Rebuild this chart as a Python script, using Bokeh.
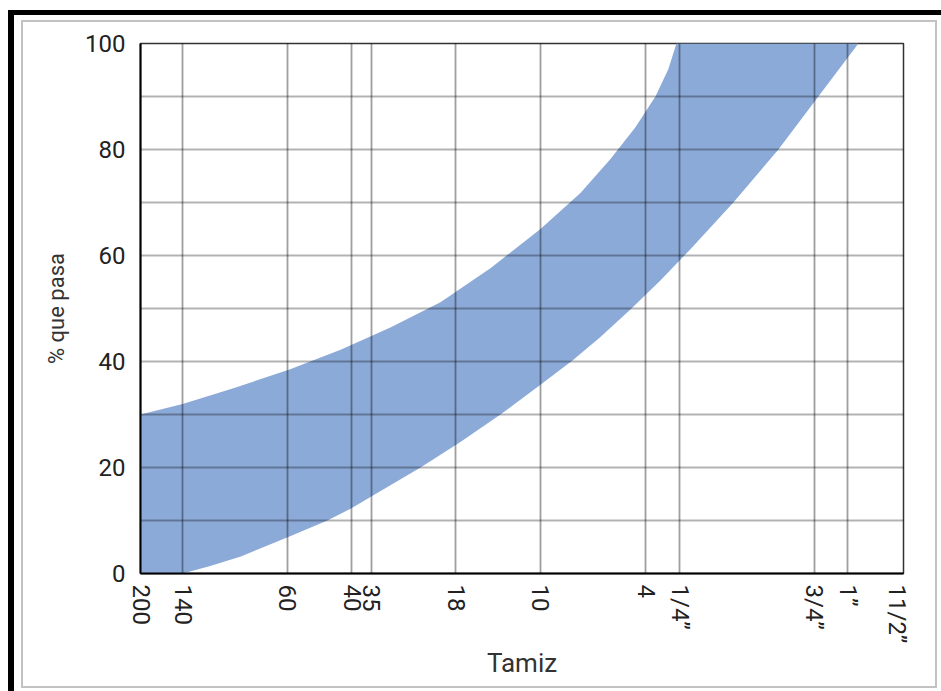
from bokeh.plotting import figure
from bokeh.models import FixedTicker, Range1d, AllLabels, ColumnDataSource, Spacer, LinearAxis
from bokeh.layouts import row, column
from bokeh.embed import file_html
from bokeh.resources import INLINE

# Sieve openings (mm) and their labels
sieve_mm = [0.075, 0.106, 0.25, 0.425, 0.5, 1.0, 2.0, 4.75, 6.3, 19.0, 25.0, 37.5]
sieve_labels = ["200", "140", "60", "40", "35", "18", "10", "4", "1/4\u201d", "3/4\u201d", "1\u201d", "11/2\u201d"]

# Upper limit of the band (% que pasa)
upper_mm = [0.075, 0.106, 0.164, 0.255, 0.388, 0.584, 0.881, 1.328, 2.003, 2.782, 3.560, 4.370, 5.149, 5.729, 6.117, 39.5]
upper_pct = [30, 32, 35.1, 38.5, 42.2, 46.4, 51.2, 57.6, 65.0, 71.8, 78.2, 84.2, 90, 95.2, 100, 100]

# Lower limit of the band (% que pasa)
lower_mm = [0.075, 0.106, 0.133, 0.171, 0.255, 0.348, 0.421, 0.517, 0.748, 1.038, 1.442, 2.003, 2.605, 3.278,
            4.193, 5.364, 6.863, 9.768, 14.14, 19.63, 27.27, 39.5]
lower_pct = [0, 0, 1.4, 3.2, 7.0, 10.0, 12.2, 15.0, 20.0, 24.8, 30.0, 35.6, 40.2, 44.6,
             49.8, 55.3, 61.2, 70, 80, 90, 100, 100]

y_major = [0, 20, 40, 60, 80, 100]
y_minor = [10, 30, 50, 70, 90]

y_title = "% que pasa"
x_title = "Tamiz"

FONT = "Roboto"

p = figure(width=912, height=664, x_axis_type="log",
           x_range=Range1d(0.075, 39.5), y_range=Range1d(0, 100),
           output_backend="svg", toolbar_location=None,
           min_border_left=117, min_border_top=21, min_border_right=32, min_border_bottom=113)

band = ColumnDataSource(data=dict(
    x=upper_mm + lower_mm[::-1],
    y=upper_pct + lower_pct[::-1],
))
p.patch("x", "y", source=band, fill_color="#8CAAD8", line_color=None)

# Axes
p.xaxis.ticker = FixedTicker(ticks=sieve_mm)
p.xaxis.major_label_overrides = {v: l for v, l in zip(sieve_mm, sieve_labels)}
p.xaxis.major_label_orientation = "vertical"
p.xaxis.major_label_policy = AllLabels()
p.yaxis.ticker = FixedTicker(ticks=y_major, minor_ticks=y_minor)

for ax in (p.xaxis, p.yaxis):
    ax.axis_line_color = "black"
    ax.axis_line_width = 2
    ax.major_tick_line_color = None
    ax.minor_tick_line_color = None
    ax.major_tick_out = 0
    ax.major_tick_in = 0
    ax.major_label_standoff = 11
    ax.major_label_text_font = FONT
    ax.major_label_text_font_size = "24px"
    ax.major_label_text_color = "#222222"
    ax.axis_label_text_font = FONT
    ax.axis_label_text_font_style = "normal"
    ax.axis_label_text_color = "#333333"

p.xaxis.axis_label = x_title
p.xaxis.axis_label_text_font_size = "26px"
p.xaxis.axis_label_standoff = 2

# y title on a label-only axis whose bounds centre it a little low, as in the original
title_axis = LinearAxis(bounds=(0, 86), ticker=FixedTicker(ticks=[]), axis_label=y_title,
                        axis_line_color=None, major_tick_line_color=None, minor_tick_line_color=None,
                        major_tick_out=0, major_tick_in=0, major_label_standoff=0,
                        axis_label_standoff=14, axis_label_text_font=FONT,
                        axis_label_text_font_style="normal", axis_label_text_font_size="22px",
                        axis_label_text_color="#333333")
p.add_layout(title_axis, "left")

# Grid drawn over the band
p.xgrid.ticker = FixedTicker(ticks=sieve_mm[1:-1])
p.xgrid.grid_line_color = "black"
p.xgrid.grid_line_alpha = 0.38
p.xgrid.grid_line_width = 1.8
p.xgrid.level = "annotation"
p.ygrid.grid_line_color = "black"
p.ygrid.grid_line_alpha = 0.3
p.ygrid.grid_line_width = 2
p.ygrid.minor_grid_line_color = "black"
p.ygrid.minor_grid_line_alpha = 0.3
p.ygrid.minor_grid_line_width = 2
p.ygrid.level = "annotation"

p.outline_line_color = "#333333"
p.outline_line_width = 1.5
p.background_fill_color = "white"
p.border_fill_color = "white"

# Picture frame built from coloured spacers
def bar(w, h, color):
    return Spacer(width=w, height=h, styles={"background-color": color})

GRAY = "#c2c2c2"
inner = column(
    bar(916, 2, GRAY),
    row(bar(2, 664, GRAY), p, bar(2, 664, GRAY)),
    bar(916, 2, GRAY),
)
middle = column(
    bar(927, 5, "white"),
    row(bar(7, 668, "white"), inner, bar(4, 668, "white")),
    bar(927, 3, "white"),
)
root = row(
    bar(8, 691, "white"),
    column(
        bar(933, 10, "white"),
        row(bar(6, 681, "black"), column(bar(927, 5, "black"), middle)),
    ),
)

open("out.html", "w").write(file_html(root, INLINE))
